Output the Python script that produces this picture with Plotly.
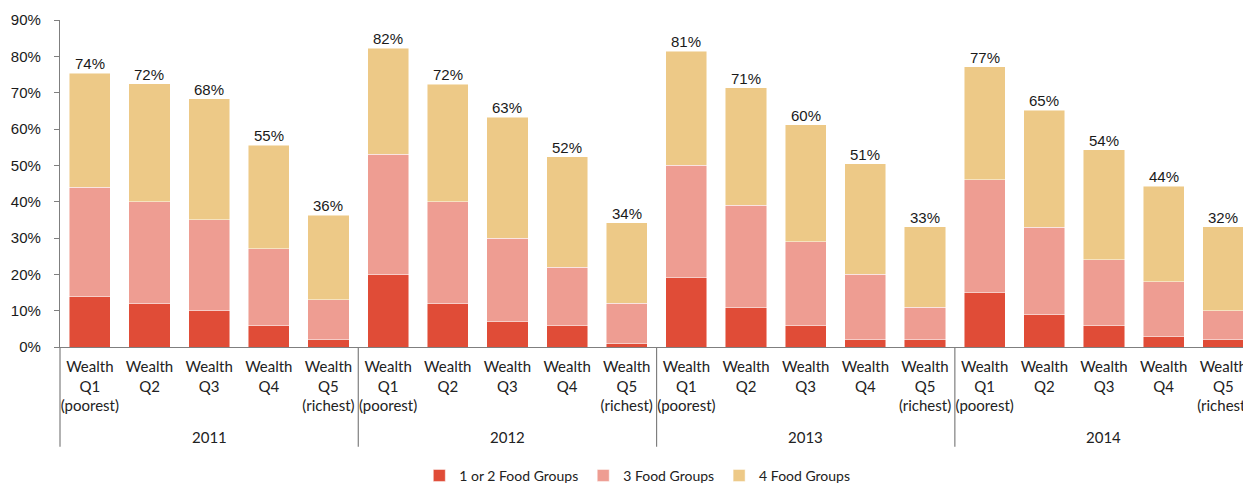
import plotly.graph_objects as go

years = ["2011", "2012", "2013", "2014"]
quintiles = ["Wealth<br>Q1<br>(poorest)", "Wealth<br>Q2", "Wealth<br>Q3", "Wealth<br>Q4", "Wealth<br>Q5<br>(richest)"]

food_1_2 = [14, 12, 10, 6, 2,
            20, 12, 7, 6, 1,
            19, 11, 6, 2, 2,
            15, 9, 6, 3, 2]
food_3 = [30, 28, 25, 21, 11,
          33, 28, 23, 16, 11,
          31, 28, 23, 18, 9,
          31, 24, 18, 15, 8]
food_4 = [31.4, 32.4, 33.3, 28.5, 23.2,
          29.2, 32.3, 33.2, 30.3, 22.2,
          31.4, 32.3, 32.2, 30.4, 22.1,
          31.2, 32.1, 30.3, 26.3, 23.1]
total_labels = ["74%", "72%", "68%", "55%", "36%",
                "82%", "72%", "63%", "52%", "34%",
                "81%", "71%", "60%", "51%", "33%",
                "77%", "65%", "54%", "44%", "32%"]

series_names = ["1 or 2 Food Groups", "3 Food Groups", "4 Food Groups"]
colors = ["#E04C37", "#EE9D92", "#EDC987"]

n = len(years) * len(quintiles)
xs = list(range(n))
ticktext = quintiles * len(years)

fig = go.Figure()
for name, vals, col in zip(series_names, [food_1_2, food_3, food_4], colors):
    fig.add_trace(go.Bar(
        x=xs, y=vals, name=name, marker_color=col,
        marker_line_color="rgba(255,255,255,0.6)", marker_line_width=0.8,
        width=0.69,
    ))

xr = [-0.5, 19.33]
def px(v):
    return (v - xr[0]) / (xr[1] - xr[0])

annotations = []
for i in xs:
    top = food_1_2[i] + food_3[i] + food_4[i]
    annotations.append(dict(
        x=i, y=top, xref="x", yref="y", text=total_labels[i], showarrow=False,
        yanchor="bottom", yshift=-1,
        font=dict(family="Liberation Sans, Arial", size=15, color="#1a1a1a"),
    ))

shapes = []
ng = len(quintiles)
for g, yr in enumerate(years):
    center = g * ng + (ng - 1) / 2
    annotations.append(dict(
        x=px(center), y=-0.275, xref="paper", yref="paper", text=yr,
        showarrow=False, yanchor="middle", xanchor="center",
        font=dict(family="Lato", size=15, color="#222"),
    ))
    sep = g * ng - 0.5
    shapes.append(dict(
        type="line", xref="paper", yref="paper",
        x0=px(sep), x1=px(sep), y0=0, y1=-0.305,
        line=dict(color="#7f7f7f", width=1.2),
    ))

fig.update_layout(
    barmode="stack",
    width=1243, height=483,
    margin=dict(l=60, r=0, t=20, b=136, autoexpand=False),
    plot_bgcolor="white", paper_bgcolor="white",
    showlegend=True,
    legend=dict(orientation="h", x=0.488, xanchor="center", y=-0.394, yanchor="middle",
                font=dict(family="Lato", size=14, color="#222"),
                traceorder="normal", itemwidth=30),
    annotations=annotations,
    shapes=shapes,
    bargap=0.31,
)
fig.update_xaxes(
    range=xr, tickmode="array", tickvals=xs, ticktext=ticktext,
    showline=True, linecolor="#7f7f7f", linewidth=1.2, ticks="",
    showgrid=False, zeroline=False, automargin=False, ticklabeloverflow="allow",
    ticklabelstandoff=6,
    tickfont=dict(family="Lato", size=15, color="#222"),
)
fig.update_yaxes(
    range=[0, 90], tickvals=[0, 10, 20, 30, 40, 50, 60, 70, 80, 90],
    ticktext=["0%", "10%", "20%", "30%", "40%", "50%", "60%", "70%", "80%", "90%"],
    showline=True, linecolor="#7f7f7f", linewidth=1.2, ticks="outside", ticklen=5,
    tickcolor="#7f7f7f", showgrid=False, zeroline=False, automargin=False,
    ticklabelstandoff=10,
    tickfont=dict(family="Liberation Sans, Arial", size=15, color="#1a1a1a"),
)

fig.write_html("out.html", config={"displayModeBar": False},
               post_script="document.body.style.margin='0px';document.body.style.overflow='hidden';")
